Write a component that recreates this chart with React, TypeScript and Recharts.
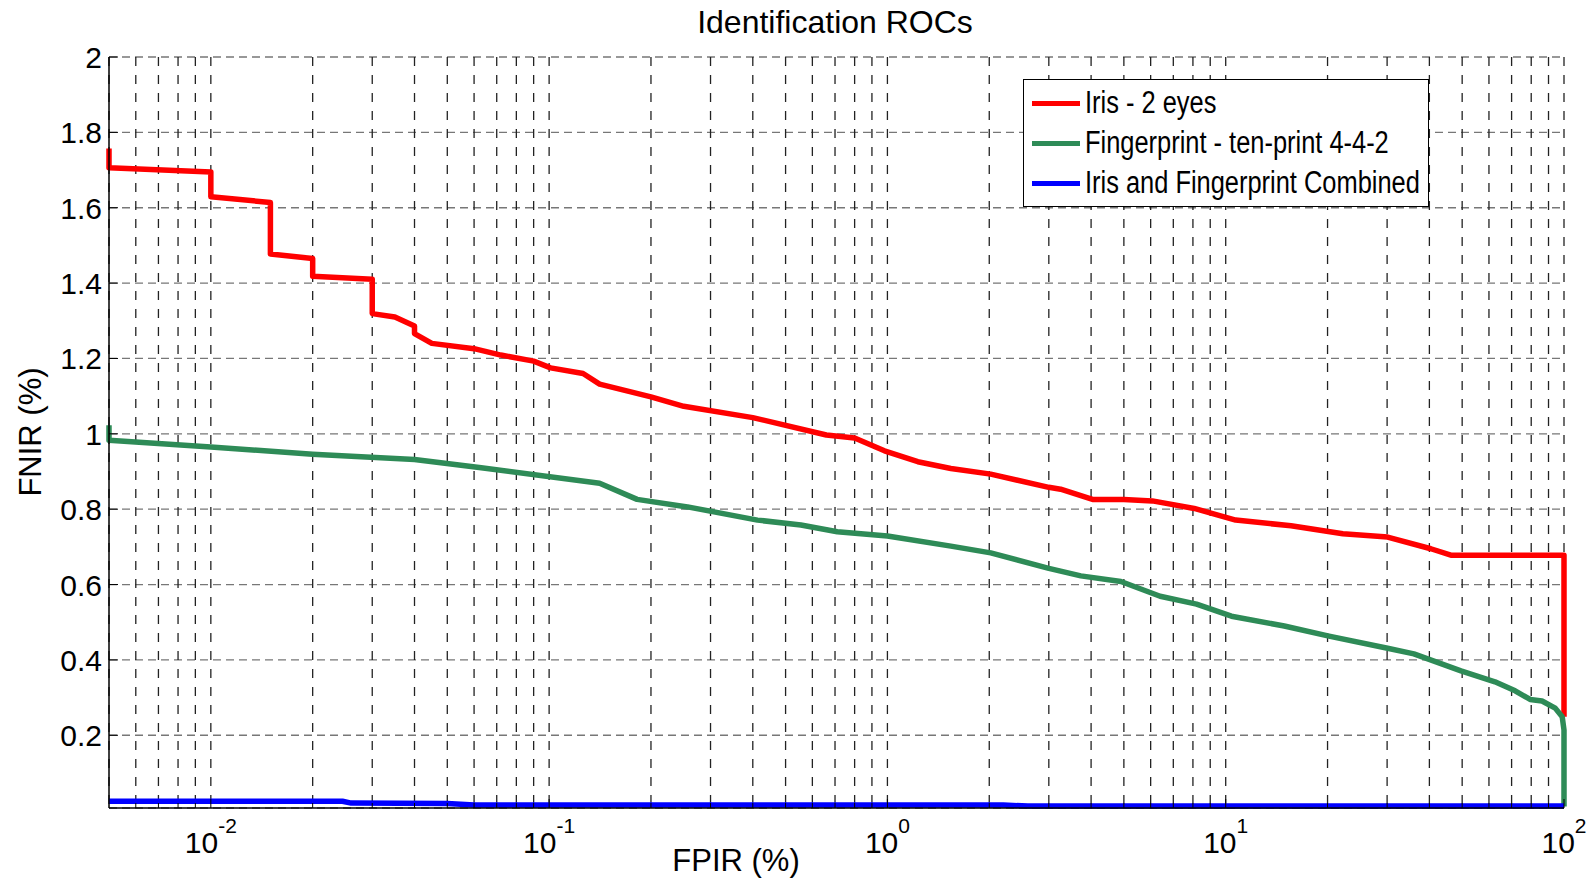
import { LineChart, Line, XAxis, YAxis, CartesianGrid, Legend } from "recharts";

// FPIR (%) on a log axis, FNIR (%) linear
const irisFpir = [0.005, 0.005, 0.01, 0.01, 0.015, 0.015, 0.02, 0.02, 0.03, 0.03, 0.035, 0.04, 0.04, 0.045, 0.06, 0.072, 0.09, 0.101, 0.126, 0.141, 0.2, 0.25, 0.4, 0.66, 0.8, 0.98, 1.23, 1.54, 2.02, 3.0, 3.25, 4.04, 5.0, 6.07, 8.07, 10.7, 15.6, 22.2, 30.1, 40.4, 46.3, 100, 100];
const irisFnir = [1.757, 1.706, 1.695, 1.629, 1.614, 1.477, 1.465, 1.418, 1.41, 1.319, 1.31, 1.286, 1.266, 1.24, 1.226, 1.209, 1.193, 1.175, 1.16, 1.132, 1.098, 1.073, 1.043, 0.997, 0.989, 0.955, 0.926, 0.908, 0.893, 0.858, 0.853, 0.826, 0.826, 0.822, 0.802, 0.771, 0.756, 0.735, 0.726, 0.695, 0.678, 0.678, 0.249];

const fingerFpir = [0.005, 0.005, 0.01, 0.02, 0.04, 0.063, 0.141, 0.182, 0.2565, 0.413, 0.555, 0.711, 1.0, 1.54, 2.02, 3.0, 3.73, 4.9, 6.4, 8.2, 10.4, 14.9, 20.2, 30.1, 36.0, 49.6, 62.5, 71.7, 79.4, 86.1, 94.2, 98.8, 100, 100];
const fingerFnir = [1.023, 0.983, 0.965, 0.946, 0.932, 0.91, 0.869, 0.826, 0.806, 0.771, 0.758, 0.74, 0.729, 0.702, 0.684, 0.643, 0.623, 0.608, 0.569, 0.548, 0.516, 0.49, 0.463, 0.431, 0.416, 0.371, 0.342, 0.318, 0.295, 0.291, 0.272, 0.249, 0.214, 0.011];

const combinedFpir = [0.005, 0.0245, 0.026, 0.05, 0.06, 2.2, 2.6, 100];
const combinedFnir = [0.025, 0.025, 0.02, 0.019, 0.015, 0.015, 0.012, 0.012];

const xTicks = [
  0.006, 0.007, 0.008, 0.009,
  0.01, 0.02, 0.03, 0.04, 0.05, 0.06, 0.07, 0.08, 0.09,
  0.1, 0.2, 0.3, 0.4, 0.5, 0.6, 0.7, 0.8, 0.9,
  1, 2, 3, 4, 5, 6, 7, 8, 9,
  10, 20, 30, 40, 50, 60, 70, 80, 90,
  100,
];
const yTicks = [0.2, 0.4, 0.6, 0.8, 1, 1.2, 1.4, 1.6, 1.8, 2];

const seriesNames = ["Iris - 2 eyes", "Fingerprint - ten-print 4-4-2", "Iris and Fingerprint Combined"];
const seriesColors = ["#ff0000", "#2e8b57", "#0000ff"];

const zip = (xs: number[], ys: number[]) => xs.map((x, i) => ({ x, y: ys[i] }));
const irisData = zip(irisFpir, irisFnir);
const fingerData = zip(fingerFpir, fingerFnir);
const combinedData = zip(combinedFpir, combinedFnir);

const FONT = "'Liberation Sans', Arial, Helvetica, sans-serif";

const isDecade = (v: number) => Math.abs(Math.log10(v) - Math.round(Math.log10(v))) < 1e-9;

function BottomTick(props: any) {
  const { x, y, payload } = props;
  const v = payload.value;
  const major = isDecade(v);
  return (
    <g>
      <line x1={x} x2={x} y1={y} y2={y - (major ? 9 : 5)} stroke="#000" strokeWidth={1} />
      {major && (
        <text x={x} y={y + 45} textAnchor="middle" fontSize={30} fontFamily={FONT} fill="#000">
          10<tspan dy={-20} fontSize={21}>{Math.round(Math.log10(v))}</tspan>
        </text>
      )}
    </g>
  );
}

function TopTick(props: any) {
  const { x, y, payload } = props;
  const major = isDecade(payload.value);
  return <line x1={x} x2={x} y1={y} y2={y + (major ? 9 : 5)} stroke="#000" strokeWidth={1} />;
}

function LeftTick(props: any) {
  const { x, y, payload } = props;
  return (
    <g>
      <line x1={x} x2={x + 9} y1={y} y2={y} stroke="#000" strokeWidth={1} />
      <text x={x - 7} y={y + 11} textAnchor="end" fontSize={30} fontFamily={FONT} fill="#000">
        {payload.value}
      </text>
    </g>
  );
}

function RightTick(props: any) {
  const { x, y } = props;
  return <line x1={x} x2={x - 9} y1={y} y2={y} stroke="#000" strokeWidth={1} />;
}

function LegendBox() {
  return (
    <div
      style={{
        width: 406,
        height: 128,
        border: "1.3px solid #000",
        background: "#fff",
        boxSizing: "border-box",
        paddingTop: 3,
        fontFamily: FONT,
        fontSize: 31,
        color: "#000",
        overflow: "hidden",
      }}
    >
      {seriesNames.map((name, i) => (
        <div key={name} style={{ display: "flex", alignItems: "center", height: 40 }}>
          <div style={{ flex: "0 0 48px", height: 5, background: seriesColors[i], marginLeft: 8, marginRight: 5 }} />
          <span
            style={{
              display: "inline-block",
              whiteSpace: "nowrap",
              lineHeight: "40px",
              transform: "scaleX(0.82)",
              transformOrigin: "left center",
            }}
          >
            {name}
          </span>
        </div>
      ))}
    </div>
  );
}

export default function App() {
  return (
    <div style={{ position: "absolute", left: 0, top: 0, width: 1594, height: 881, background: "#fff" }}>
      <LineChart width={1594} height={881} margin={{ top: 57, right: 30, bottom: 0, left: 0 }}>
        <CartesianGrid vertical={false} stroke="#777" strokeDasharray="8 5" strokeWidth={1.3} />
        <CartesianGrid horizontal={false} stroke="#222" strokeDasharray="9 9" strokeWidth={1.3} />
        <XAxis
          dataKey="x"
          type="number"
          scale="log"
          domain={[0.005, 100]}
          ticks={xTicks}
          interval={0}
          height={73}
          tickSize={0}
          tickMargin={0}
          tickLine={false}
          tick={<BottomTick />}
          axisLine={{ stroke: "#000", strokeWidth: 1.5 }}
        />
        <XAxis
          xAxisId="top"
          orientation="top"
          dataKey="x"
          type="number"
          scale="log"
          domain={[0.005, 100]}
          ticks={xTicks}
          interval={0}
          height={0}
          tickSize={0}
          tickMargin={0}
          tickLine={false}
          tick={<TopTick />}
          axisLine={{ stroke: "#000", strokeWidth: 1.5 }}
        />
        <YAxis
          type="number"
          domain={[0.007, 2]}
          ticks={yTicks}
          interval={0}
          width={109}
          tickSize={0}
          tickMargin={0}
          tickLine={false}
          tick={<LeftTick />}
          axisLine={{ stroke: "#000", strokeWidth: 1.5 }}
        />
        <YAxis
          yAxisId="right"
          orientation="right"
          type="number"
          domain={[0.007, 2]}
          ticks={yTicks}
          interval={0}
          width={0}
          tickSize={0}
          tickMargin={0}
          tickLine={false}
          tick={<RightTick />}
          axisLine={{ stroke: "#000", strokeWidth: 1.5 }}
        />
        <Line data={irisData} dataKey="y" name={seriesNames[0]} stroke={seriesColors[0]} strokeWidth={5.5} dot={false} type="linear" isAnimationActive={false} strokeLinejoin="round" />
        <Line data={fingerData} dataKey="y" name={seriesNames[1]} stroke={seriesColors[1]} strokeWidth={5.5} dot={false} type="linear" isAnimationActive={false} strokeLinejoin="round" />
        <Line data={combinedData} dataKey="y" name={seriesNames[2]} stroke={seriesColors[2]} strokeWidth={5.5} dot={false} type="linear" isAnimationActive={false} strokeLinejoin="round" />
        <Legend
          layout="vertical"
          align="center"
          verticalAlign="middle"
          content={<LegendBox />}
          wrapperStyle={{ left: 1023, top: 79, width: 406, height: 128 }}
        />
      </LineChart>
      <svg width={1594} height={881} style={{ position: "absolute", left: 0, top: 0, pointerEvents: "none" }}>
        <text x={835} y={33} textAnchor="middle" fontSize={32} fontFamily={FONT} fill="#000">
          Identification ROCs
        </text>
        <text x={736} y={871} textAnchor="middle" fontSize={31} fontFamily={FONT} fill="#000">
          FPIR (%)
        </text>
        <text x={41} y={432} textAnchor="middle" fontSize={31} fontFamily={FONT} fill="#000" transform="rotate(-90 41 432)">
          FNIR (%)
        </text>
      </svg>
    </div>
  );
}
